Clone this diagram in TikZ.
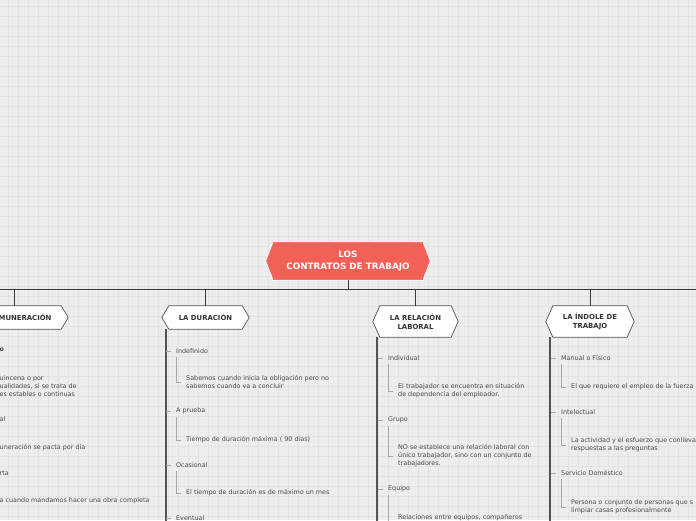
\documentclass[tikz,border=0pt]{standalone}
\usepackage{fontspec}
\setmainfont{DejaVu Sans}
\usepackage{tikz,xcolor}
\usetikzlibrary{calc}

\definecolor{bgcol}{HTML}{EDEDED}
\definecolor{gridcol}{HTML}{E3E3E3}
\definecolor{rootcol}{HTML}{F26157}
\definecolor{topiccol}{HTML}{333333}
\definecolor{textcol}{HTML}{4A4A4A}
\definecolor{buscol}{HTML}{3A3A3A}
\definecolor{branchcol}{HTML}{555555}
\definecolor{twigcol}{HTML}{A8A8A8}

\tikzset{
  % the red box in the middle
  root/.style={fill=rootcol, text=white, font=\fontsize{8.8}{11.5}\selectfont\bfseries,
    align=center, inner sep=0pt, minimum width=150pt, minimum height=38pt},
  % the white boxes on the line
  topic/.style={fill=white, text=topiccol, font=\fontsize{6.9}{9.3}\selectfont\bfseries,
    align=center, inner sep=0pt, minimum height=23pt},
  % plain texts under a box
  item/.style={anchor=west, text=textcol, font=\fontsize{6.4}{8}\selectfont,
    align=left, inner sep=0pt},
  gridline/.style={draw=gridcol, line width=.6pt},
  bus/.style={draw=buscol, line width=1pt},
  branch/.style={draw=branchcol, line width=1.6pt},
  twig/.style={draw=twigcol, line width=.7pt},
}

% pointed ends of a box: #1 node, #2 fill, #3 line
\newcommand{\hexframe}[3]{%
  \fill[#2] ([xshift=-1pt]#1.north east) -- ([xshift=7pt]#1.east) -- ([xshift=-1pt]#1.south east) -- cycle
            ([xshift=1pt]#1.north west) -- ([xshift=-7pt]#1.west) -- ([xshift=1pt]#1.south west) -- cycle;
  \draw[#3, line join=miter] (#1.north west) -- (#1.north east) -- ([xshift=7pt]#1.east)
    -- (#1.south east) -- (#1.south west) -- ([xshift=-7pt]#1.west) -- cycle;}

\begin{document}
\begin{tikzpicture}[x=1pt, y=-1pt]
  \clip (0,0) rectangle (696,520);
  \fill[bgcol] (0,0) rectangle (696,520);
  % background grid
  \foreach \gx in {8.3,18.3,...,696} \draw[gridline] (\gx,0) -- (\gx,520);
  \foreach \gy in {6.7,16.7,...,520} \draw[gridline] (0,\gy) -- (696,\gy);

  % the line the boxes hang from
  \coordinate (busL) at (0,289);
  \coordinate (busR) at (696,289);
  \coordinate (low) at (0,540);
  \draw[bus] (busL) -- (busR);

  \node[root] (contratos) at (348,261) {LOS\\CONTRATOS DE TRABAJO};
  \hexframe{contratos}{rootcol}{draw=white, line width=.6pt}
  \draw[bus] (contratos.south) -- (contratos.south |- busL);

  \node[topic, minimum width=94pt] (remun) at (14,317.5) {LA REMUNERACIÓN};
  \node[topic, minimum width=73pt] (duracion) at (205.5,317.5) {LA DURACIÓN};
  \node[topic, minimum width=71pt, minimum height=31pt] (relacion) at (415.5,321.5) {LA RELACIÓN\\LABORAL};
  \node[topic, minimum width=74pt, minimum height=31pt] (indole) at (590,321.5) {LA ÍNDOLE DE\\TRABAJO};
  \foreach \t in {remun,duracion,relacion,indole}{
    \hexframe{\t}{white}{draw=branchcol, line width=.7pt}
    \draw[bus] (\t.north) -- (\t.north |- busL);
    \draw[branch] ([xshift=-3pt]\t.south west) -- ([xshift=-3pt]\t.south west |- low);
  }

  % LA REMUNERACION (cut by the left edge)
  \node[item, font=\fontsize{6.4}{8}\selectfont\bfseries] (rem1) at (-0.5,350) {o};
  \node[item] (rem1s) at (-0.5,386.5) {uincena o por\\ualidades, si se trata de\\es estables o continuas};
  \node[item] (rem2) at (-0.5,419) {al};
  \node[item] (rem2s) at (-0.5,448) {uneración se pacta por día};
  \node[item] (rem3) at (-0.5,473) {rta};
  \node[item] (rem3s) at (-0.5,501) {a cuando mandamos hacer una obra completa};

  % LA DURACION
  \node[item] (dur1) at (176,351) {Indefinido};
  \node[item] (dur1s) at (186,382) {Sabemos cuando inicia la obligación pero no\\sabemos cuando va a concluir};
  \node[item] (dur2) at (176,411) {A prueba};
  \node[item] (dur2s) at (186,440) {Tiempo de duración máxima ( 90 días)};
  \node[item] (dur3) at (176,465) {Ocasional};
  \node[item] (dur3s) at (186,493) {El tiempo de duración es de máximo un mes};
  \node[item] (dur4) at (176,518) {Eventual};

  % LA RELACION LABORAL
  \node[item] (rel1) at (388,358) {Individual};
  \node[item] (rel1s) at (398,391) {El trabajador se encuentra en situación\\de dependencia del empleador.};
  \node[item] (rel2) at (388,420) {Grupo};
  \node[item] (rel2s) at (398,456) {NO se establece una relación laboral con\\único trabajador, sino con un conjunto de\\trabajadores.};
  \node[item] (rel3) at (388,489) {Equipo};
  \node[item] (rel3s) at (398,518) {Relaciones entre equipos, compañeros};

  % LA INDOLE DE TRABAJO
  \node[item] (ind1) at (561,358) {Manual o Físico};
  \node[item] (ind1s) at (571,387) {El que requiere el empleo de la fuerza};
  \node[item] (ind2) at (561,412) {Intelectual};
  \node[item] (ind2s) at (571,445) {La actividad y el esfuerzo que conlleva\\respuestas a las preguntas};
  \node[item] (ind3) at (561,473) {Servicio Doméstico};
  \node[item] (ind3s) at (571,507) {Persona o conjunto de personas que s\\limpiar casas profesionalmente};

  % small ticks and elbows
  \foreach \c in {dur1,dur2,dur3,dur4,rel1,rel2,rel3,ind1,ind2,ind3}
    \draw[twig] ([xshift=-10pt]\c.west) -- ([xshift=-5pt]\c.west);
  \foreach \c in {dur1,dur2,dur3,rel1,rel2,ind1,ind2,ind3}
    \draw[twig] ([yshift=-3pt]\c.south west) |- ([xshift=-5pt]\c s.west);
  \draw[twig] ([yshift=-3pt]rel3.south west) -- (rel3.south west |- low);
\end{tikzpicture}
\end{document}
